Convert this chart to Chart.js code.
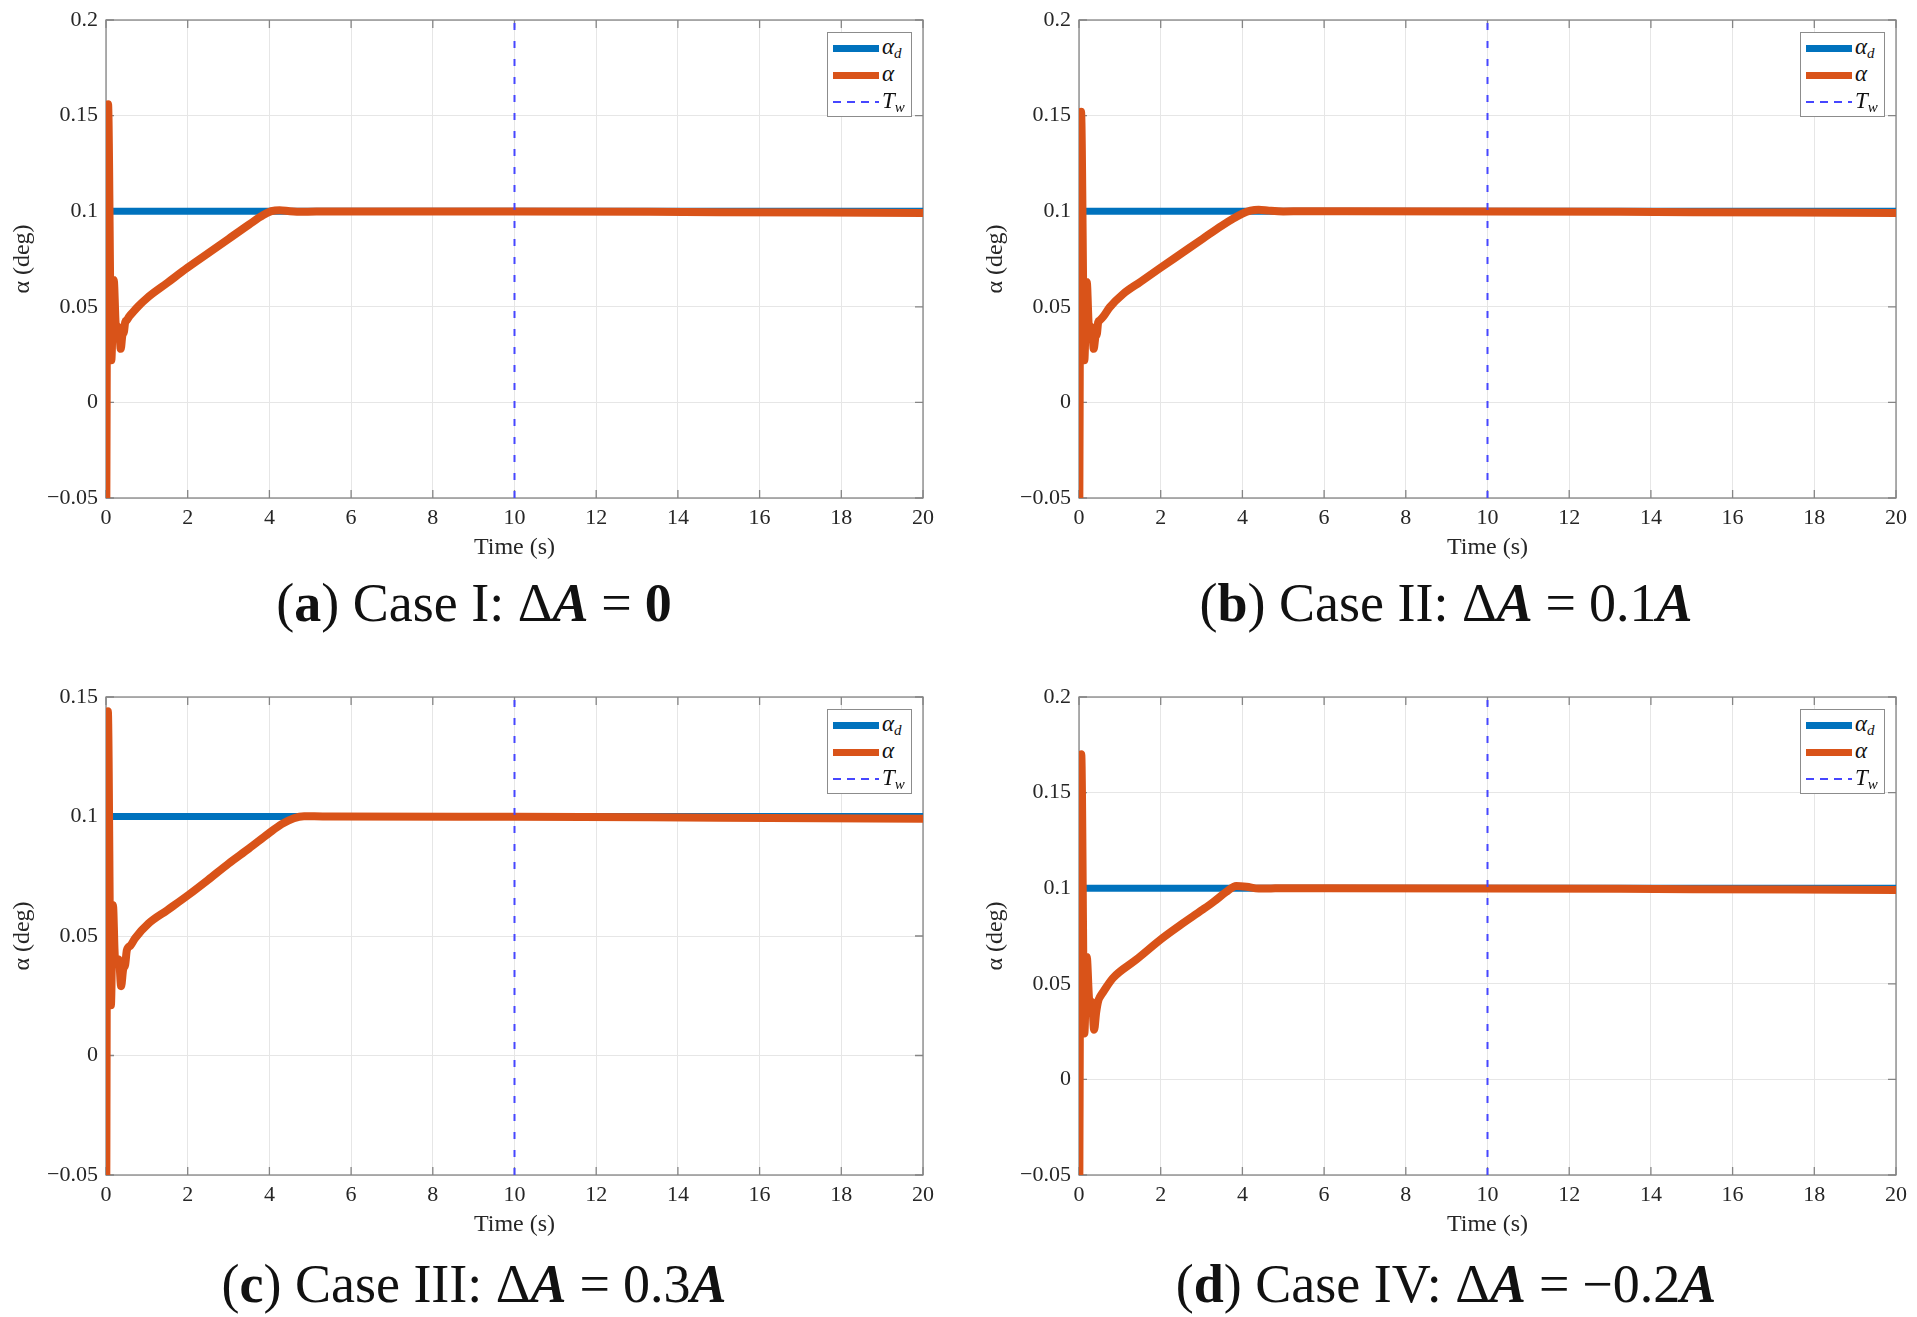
<!DOCTYPE html>
<html>
<head>
<meta charset="utf-8">
<title>Angle of attack tracking - four cases</title>
<script src="https://cdn.jsdelivr.net/npm/chart.js@4.4.1/dist/chart.umd.min.js"></script>
<style>
  html, body { margin: 0; padding: 0; background: #fff; }
  body { width: 1917px; height: 1317px; position: relative; overflow: hidden; font-family: "Liberation Serif", serif; }
  .panel { position: absolute; width: 940px; height: 570px; }
  .legend { position: absolute; left: 827px; top: 32px; width: 83px; height: 83px; border: 1px solid #8c8c8c; background: #fff; }
  .legend .row { position: absolute; left: 0; height: 26px; width: 100%; }
  .legend .swatch { position: absolute; left: 5px; width: 46px; }
  .legend .lbl { position: absolute; left: 54px; top: -1px; line-height: 26px; font-size: 23px; font-style: italic; color: #111; }
  .legend .lbl sub { font-size: 15px; vertical-align: -4px; }
  .caption { position: absolute; width: 960px; text-align: center; font-size: 54px; line-height: 60px; color: #111; white-space: nowrap; }
  .caption .rel { margin: 0 0.24em; }
</style>
</head>
<body>

<div class="panel" id="pa"><canvas id="ca"></canvas></div>
<div class="panel" id="pb"><canvas id="cb"></canvas></div>
<div class="panel" id="pc"><canvas id="cc"></canvas></div>
<div class="panel" id="pd"><canvas id="cd"></canvas></div>

<div class="caption" style="left:-6px; top:573px;">(<b>a</b>) Case I: Δ<b><i>A</i></b><span class="rel">=</span><b>0</b></div>
<div class="caption" style="left:966px; top:573px;">(<b>b</b>) Case II: Δ<b><i>A</i></b><span class="rel">=</span>0.1<b><i>A</i></b></div>
<div class="caption" style="left:-6px; top:1254px;">(<b>c</b>) Case III: Δ<b><i>A</i></b><span class="rel">=</span>0.3<b><i>A</i></b></div>
<div class="caption" style="left:966px; top:1254px;">(<b>d</b>) Case IV: Δ<b><i>A</i></b><span class="rel">=</span>−0.2<b><i>A</i></b></div>

<script>
// --- data ---
const xTicks = [0, 2, 4, 6, 8, 10, 12, 14, 16, 18, 20];
const yTicksWide = [-0.05, 0, 0.05, 0.1, 0.15, 0.2];
const yTicksNarrow = [-0.05, 0, 0.05, 0.1, 0.15];

const alphaDesired = 0.1;   // alpha_d (deg)
const switchTime = 10;      // T_w (s)
const timeSpan = [0, 20];

// Case I: dA = 0
const timeA  = [0, 0.05, 0.13, 0.19, 0.24, 0.32, 0.36, 0.40, 0.44, 0.47, 0.51, 0.57, 0.65, 0.8, 1.0, 1.5, 2.0, 2.5, 3.0, 3.5, 3.85, 4.05, 4.25, 4.5, 4.8, 5.5, 10, 15, 20];
const alphaA = [-0.10, 0.156, 0.022, 0.064, 0.041, 0.039, 0.028, 0.035, 0.037, 0.042, 0.043, 0.045, 0.047, 0.0505, 0.0545, 0.0625, 0.0705, 0.078, 0.0855, 0.093, 0.098, 0.1, 0.1005, 0.1, 0.0997, 0.0999, 0.0999, 0.0995, 0.0991];

// Case II: dA = 0.1A
const timeB  = [0, 0.05, 0.13, 0.19, 0.24, 0.32, 0.36, 0.40, 0.44, 0.47, 0.51, 0.6, 0.75, 1.08, 1.5, 1.97, 2.5, 3.03, 3.5, 4.0, 4.2, 4.4, 4.65, 5.0, 5.5, 10, 15, 20];
const alphaB = [-0.10, 0.152, 0.022, 0.063, 0.041, 0.039, 0.028, 0.034, 0.036, 0.042, 0.043, 0.045, 0.0497, 0.0567, 0.063, 0.070, 0.0778, 0.0856, 0.0925, 0.0987, 0.1003, 0.1008, 0.1003, 0.0999, 0.1, 0.0999, 0.0995, 0.0991];

// Case III: dA = 0.3A
const timeC  = [0, 0.045, 0.12, 0.17, 0.22, 0.32, 0.37, 0.42, 0.47, 0.51, 0.6, 0.71, 1.04, 1.5, 2.02, 2.5, 3.0, 3.5, 3.98, 4.3, 4.6, 4.85, 5.1, 5.5, 10, 15, 20];
const alphaC = [-0.10, 0.144, 0.021, 0.063, 0.041, 0.040, 0.029, 0.036, 0.038, 0.044, 0.046, 0.049, 0.0552, 0.0608, 0.0672, 0.0735, 0.0803, 0.0866, 0.0929, 0.0968, 0.0993, 0.1001, 0.1001, 0.1, 0.0999, 0.0995, 0.0991];

// Case IV: dA = -0.2A
const timeD  = [0, 0.055, 0.13, 0.19, 0.25, 0.32, 0.37, 0.42, 0.47, 0.51, 0.6, 0.83, 1.4, 2.05, 2.5, 3.02, 3.3, 3.6, 3.85, 4.1, 4.4, 4.7, 5.0, 10, 15, 20];
const alphaD = [-0.10, 0.170, 0.024, 0.064, 0.042, 0.040, 0.026, 0.035, 0.041, 0.043, 0.046, 0.053, 0.0626, 0.074, 0.081, 0.0887, 0.093, 0.098, 0.1012, 0.1008, 0.0998, 0.0999, 0.1, 0.0999, 0.0995, 0.0991];

// --- styling ---
const BLUE = '#0072BD';
const ORANGE = '#D95319';
const TW_BLUE = '#4646ff';
const AXIS_GRAY = '#858585';
const TEXT = '#262626';
const FONT = '"Liberation Serif", "Times New Roman", serif';

const fmtTick = v => (v < 0 ? '\u2212' + String(-v) : String(v));

// MATLAB-like box with inward tick marks, drawn under the lines
const axesBox = {
    id: 'axesBox',
    beforeDatasetsDraw(chart) {
        const { ctx, chartArea: a, scales: { x, y } } = chart;
        const len = 8;
        ctx.save();
        ctx.strokeStyle = AXIS_GRAY;
        ctx.lineWidth = 1.3;
        ctx.beginPath();
        x.ticks.forEach(t => {
            const px = x.getPixelForValue(t.value);
            ctx.moveTo(px, a.bottom); ctx.lineTo(px, a.bottom - len);
            ctx.moveTo(px, a.top); ctx.lineTo(px, a.top + len);
        });
        y.ticks.forEach(t => {
            const py = y.getPixelForValue(t.value);
            ctx.moveTo(a.left, py); ctx.lineTo(a.left + len, py);
            ctx.moveTo(a.right, py); ctx.lineTo(a.right - len, py);
        });
        ctx.stroke();
        ctx.strokeRect(a.left, a.top, a.right - a.left, a.bottom - a.top);
        ctx.restore();
    }
};

function makePanel(canvasId, time, alpha, yTicks) {
    const yMin = yTicks[0], yMax = yTicks[yTicks.length - 1];
    const zeroPad = s => { s.paddingLeft = 0; s.paddingRight = 0; s.paddingTop = 0; s.paddingBottom = 0; };

    return new Chart(document.getElementById(canvasId), {
        type: 'line',
        data: {
            datasets: [
                {
                    label: 'alpha_d',
                    data: timeSpan.map(t => ({ x: t, y: alphaDesired })),
                    borderColor: BLUE, borderWidth: 7, pointRadius: 0, order: 3
                },
                {
                    label: 'alpha',
                    data: time.map((t, i) => ({ x: t, y: alpha[i] })),
                    borderColor: ORANGE, borderWidth: 8, pointRadius: 0,
                    cubicInterpolationMode: 'monotone', borderJoinStyle: 'round', borderCapStyle: 'round', order: 2
                },
                {
                    label: 'T_w',
                    data: [{ x: switchTime, y: yMin }, { x: switchTime, y: yMax }],
                    borderColor: TW_BLUE, borderWidth: 2, borderDash: [7, 11], pointRadius: 0, order: 1
                }
            ]
        },
        options: {
            responsive: true, maintainAspectRatio: false, animation: false,
            layout: { padding: { top: 20, right: 17, left: 0, bottom: 0 } },
            plugins: { legend: { display: false }, tooltip: { enabled: false } },
            scales: {
                x: {
                    type: 'linear', min: timeSpan[0], max: timeSpan[1],
                    afterBuildTicks: s => { s.ticks = xTicks.map(v => ({ value: v })); },
                    afterFit: s => { s.height = 72; zeroPad(s); },
                    grid: { color: '#e6e6e6', lineWidth: 1, drawTicks: false },
                    border: { display: false },
                    ticks: { padding: 7, color: TEXT, font: { family: FONT, size: 22 }, maxRotation: 0, callback: v => fmtTick(v) },
                    title: { display: true, text: 'Time (s)', color: TEXT, font: { family: FONT, size: 24 }, padding: { top: 0, bottom: 8 } }
                },
                y: {
                    type: 'linear', min: yMin, max: yMax,
                    afterBuildTicks: s => { s.ticks = yTicks.map(v => ({ value: v })); },
                    afterFit: s => { s.width = 106; zeroPad(s); },
                    grid: { color: '#e6e6e6', lineWidth: 1, drawTicks: false },
                    border: { display: false },
                    ticks: { padding: 8, color: TEXT, font: { family: FONT, size: 22 }, callback: v => fmtTick(v) },
                    title: { display: true, text: 'α (deg)', color: TEXT, font: { family: FONT, size: 24 }, padding: { top: 8, bottom: 0 } }
                }
            }
        },
        plugins: [axesBox]
    });
}

// legend box inside each panel (subscripts need real text markup)
function addLegend(panelId) {
    const box = document.createElement('div');
    box.className = 'legend';
    box.innerHTML =
        '<div class="row" style="top:2px"><div class="swatch" style="top:10px;height:7px;background:' + BLUE + '"></div><div class="lbl">α<sub>d</sub></div></div>' +
        '<div class="row" style="top:29px"><div class="swatch" style="top:10px;height:7px;background:' + ORANGE + '"></div><div class="lbl">α</div></div>' +
        '<div class="row" style="top:56px"><div class="swatch" style="top:12px;height:2px;background:repeating-linear-gradient(90deg,' + TW_BLUE + ' 0 8px, transparent 8px 14px)"></div><div class="lbl">T<sub>w</sub></div></div>';
    document.getElementById(panelId).appendChild(box);
}

const place = (id, left, top) => { const el = document.getElementById(id); el.style.left = left + 'px'; el.style.top = top + 'px'; };
place('pa', 0, 0);
place('pb', 973, 0);
place('pc', 0, 677);
place('pd', 973, 677);

makePanel('ca', timeA, alphaA, yTicksWide);
makePanel('cb', timeB, alphaB, yTicksWide);
makePanel('cc', timeC, alphaC, yTicksNarrow);
makePanel('cd', timeD, alphaD, yTicksWide);

['pa', 'pb', 'pc', 'pd'].forEach(addLegend);
</script>
</body>
</html>
